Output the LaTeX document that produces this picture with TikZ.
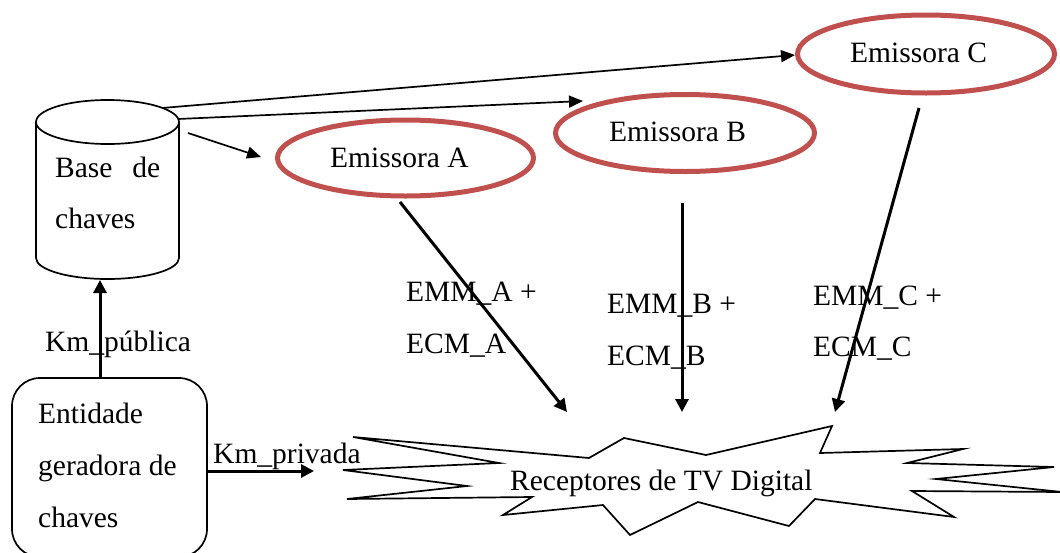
\documentclass[tikz,border=0pt]{standalone}
\usepackage{fontspec}
\setmainfont{Liberation Serif}
\usetikzlibrary{shapes.geometric,arrows.meta}
\definecolor{emred}{RGB}{192,80,77}
\tikzset{
  lbl/.style={inner sep=0pt, anchor=base west, font=\fontsize{29.5}{36}\selectfont},
  emis/.style={ellipse, draw=emred, line width=5pt, inner sep=0pt},
  thinarrow/.style={line width=1.7pt, -{Triangle[length=14pt,width=12pt]}},
  thickarrow/.style={line width=3pt, -{Triangle[length=13pt,width=13pt]}},
  outline/.style={line width=1.7pt},
}
\begin{document}
\begin{tikzpicture}[x=1pt,y=-1pt]
\useasboundingbox (0,0) rectangle (1060,552);

% key database (cylinder)
\draw[outline] (36,122) -- (36,258) arc[start angle=180,end angle=0,x radius=71.5,y radius=21] -- (179,122);
\draw[outline] (107.5,122) ellipse[x radius=71.5,y radius=22];
\node[inner sep=0pt, minimum width=143pt, minimum height=179pt] (base) at (107.5,189.5) {};
\node[lbl] (baseA) at (55,177) {\hbox to 105pt{Base\hfill de}};
\node[lbl] (baseB) at (55,228) {chaves};

% key generating entity
\draw[outline, rounded corners=28pt] (12,378) rectangle (207,557);
\node[inner sep=0pt, minimum width=195pt, minimum height=179pt] (ent) at (109.5,467.5) {};
\node[lbl] (entA) at (38,423) {Entidade};
\node[lbl] (entB) at (38,475) {geradora de};
\node[lbl] (entC) at (38,527) {chaves};

% broadcasters
\node[emis, minimum width=256pt, minimum height=76pt] (emA) at (405.5,158) {};
\node[emis, minimum width=259pt, minimum height=77pt] (emB) at (685,133) {};
\node[emis, minimum width=257pt, minimum height=78pt] (emC) at (926,54) {};
\node[lbl] (tA) at (330,167) {Emissora A};
\node[lbl] (tB) at (609,141) {Emissora B};
\node[lbl] (tC) at (850,62) {Emissora C};

% digital TV receivers (burst)
\draw[outline] (353,437) -- (589,458) -- (624,438) -- (706,455) -- (832,426) -- (820,453)
  -- (963,449) -- (907,463) -- (1054,467) -- (936,479) -- (1062,492) -- (912,491)
  -- (954,517) -- (815,499) -- (789,526) -- (698,502) -- (630,535) -- (603,505)
  -- (503,515) -- (532,497) -- (347,499) -- (467,486) -- (343,470) -- (499,463) -- cycle;
\node[lbl] (rx) at (510,490) {Receptores de TV Digital};

% connector end points
\coordinate (bC) at (162,108);
\coordinate (bB) at (178,119);
\coordinate (bA) at (188,133);
\coordinate (pC) at (795,55);
\coordinate (pB) at (583,101);
\coordinate (pA) at (261,157);
\coordinate (aS) at (400,202);
\coordinate (bS) at (682,203);
\coordinate (cS) at (919,108);
\coordinate (aE) at (567,412);
\coordinate (bE) at (682,412);
\coordinate (cE) at (835,412);
\coordinate (entTop) at (100,378);
\coordinate (baseBot) at (100,280);
\coordinate (entR) at (207,471);
\coordinate (rxL) at (314,471);

% connectors
\draw[thinarrow] (bC) -- (pC);
\draw[thinarrow] (bB) -- (pB);
\draw[thinarrow] (bA) -- (pA);
\draw[thickarrow] (aS) -- (aE);
\draw[thickarrow] (bS) -- (bE);
\draw[thickarrow] (cS) -- (cE);
\draw[thickarrow] (entTop) -- (baseBot);
\draw[thickarrow] (entR) -- (rxL);

% connector labels
\node[lbl] (kpub) at (45,351) {Km\_pública};
\node[lbl] (kpriv) at (213,463) {Km\_privada};
\node[lbl] (mA1) at (406,301) {EMM\_A +};
\node[lbl] (mA2) at (406,353) {ECM\_A};
\node[lbl] (mB1) at (607,313) {EMM\_B +};
\node[lbl] (mB2) at (607,365) {ECM\_B};
\node[lbl] (mC1) at (813,305) {EMM\_C +};
\node[lbl] (mC2) at (813,356) {ECM\_C};
\end{tikzpicture}
\end{document}
